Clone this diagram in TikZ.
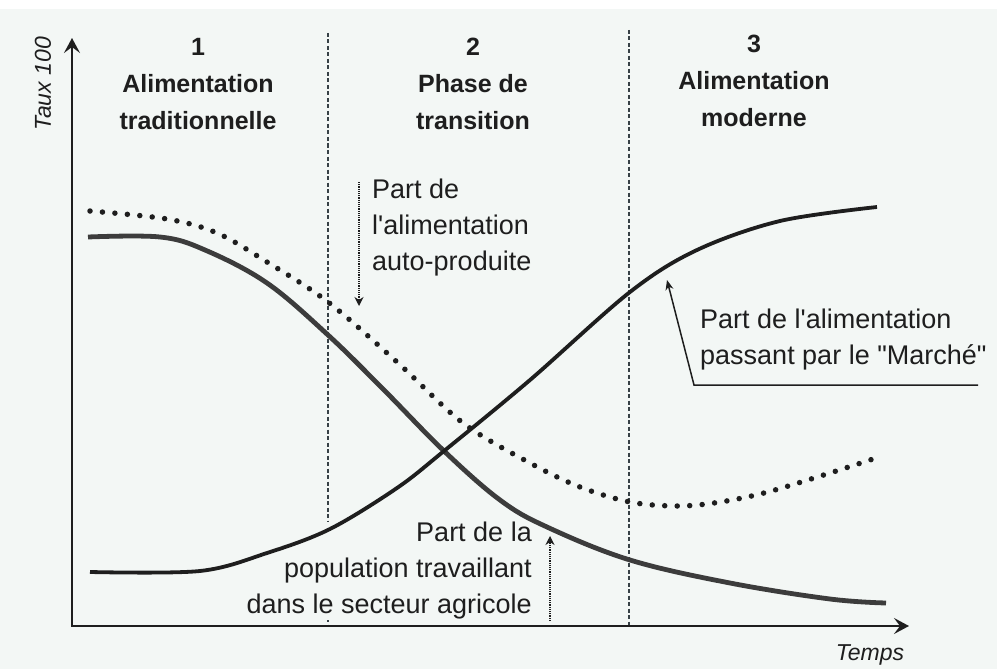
\documentclass[tikz,border=0pt]{standalone}
\usepackage{fontspec}
\setmainfont{Liberation Sans}[Ligatures=TeXOff]
\usetikzlibrary{arrows.meta}
\definecolor{paper}{RGB}{243,247,245}
\definecolor{ink}{RGB}{30,30,30}
\definecolor{inkgray}{RGB}{60,60,60}
\definecolor{dashgray}{RGB}{55,65,70}
\begin{document}
\begin{tikzpicture}[x=1pt,y=-1pt,
  head/.style={font=\bfseries\fontsize{25}{37}\selectfont, text=ink, align=center, inner sep=0pt},
  lbl/.style={font=\fontsize{27}{36}\selectfont, text=ink, inner sep=0pt},
  axislbl/.style={font=\itshape\fontsize{23}{28}\selectfont, text=ink, inner sep=0pt},
  axisline/.style={draw=ink, line width=2pt, {Stealth[length=15pt,width=16pt,inset=6pt]}-{Stealth[length=15pt,width=16pt,inset=6pt]}},
  phase/.style={draw=dashgray, line width=1.7pt, dash pattern=on 4pt off 2.5pt},
  ptr/.style={draw=ink, line width=1.2pt, densely dotted, -{Stealth[length=9pt,width=9pt]}},
  callout/.style={draw=ink, line width=1.5pt, -{Stealth[length=10pt,width=8pt]}},
  market/.style={draw=ink, line width=3.8pt},
  agri/.style={draw=inkgray, line width=4.8pt},
  selfprod/.style={draw=ink, line width=5.5pt, line cap=round, dash pattern=on 0pt off 12.5pt}
]
\useasboundingbox (0,0) rectangle (997,669);
\fill[paper] (0,0) rectangle (997,669);
\fill[white] (0,0) rectangle (997,9);

% phase separators
\coordinate (d1t) at (328,33);
\coordinate (d1b) at (328,626);
\coordinate (d2t) at (629,30);
\coordinate (d2b) at (629,626);
\draw[phase] (d1t) -- (d1b);
\draw[phase] (d2t) -- (d2b);

% axes
\coordinate (O) at (72,626);
\coordinate (Ytop) at (72,38);
\coordinate (Xend) at (909,626);
\draw[axisline] (Ytop) -- (O) -- (Xend);
\node[axislbl, rotate=90] (taux) at (43,84) {Taux 100};
\node[axislbl] (temps) at (870,655) {Temps};

% headings
\node[head] (h1) at (198,84) {1\\Alimentation\\traditionnelle};
\node[head] (h2) at (473,84) {2\\Phase de\\transition};
\node[head] (h3) at (754,81) {3\\Alimentation\\moderne};

% labels
\node[lbl, align=left, anchor=west] (lauto) at (372,228) {Part de\\l'alimentation\\auto-produite};
\node[lbl, align=left, anchor=west] (lmarche) at (700,340) {Part de l'alimentation\\passant par le "Marché"};
\node[lbl, align=right, anchor=east, fill=paper] (lagri) at (532,571) {Part de la\\population travaillant\\dans le secteur agricole};

% curves
\draw[selfprod] plot[smooth, tension=0.55] coordinates {(90,211) (167,219) (217,233) (267,262) (328,302) (397,362) (463,423) (530,463) (580,487) (630,502) (675,506) (714,503) (764,493) (830,473) (879,457)};
\draw[agri] plot[smooth, tension=0.6] coordinates {(88,237) (160,237) (205,250) (267,283) (328,335) (383,389) (444,451) (500,500) (547,527) (630,560) (730,583) (830,599) (886,603)};
\draw[market] plot[smooth, tension=0.55] coordinates {(90,572) (200,571) (267,553) (330,529) (397,488) (444,451) (530,380) (630,292) (697,250) (780,221) (877,207)};

% pointers
\coordinate (a1s) at (359,182);
\coordinate (a1e) at (359,306);
\draw[ptr] (a1s) -- (a1e);
\coordinate (a2s) at (550,621);
\coordinate (a2e) at (550,536);
\draw[ptr] (a2s) -- (a2e);
\coordinate (m1) at (978,385);
\coordinate (m2) at (694,385);
\coordinate (m3) at (667,280);
\draw[callout] (m1) -- (m2) -- (m3);
\end{tikzpicture}
\end{document}
